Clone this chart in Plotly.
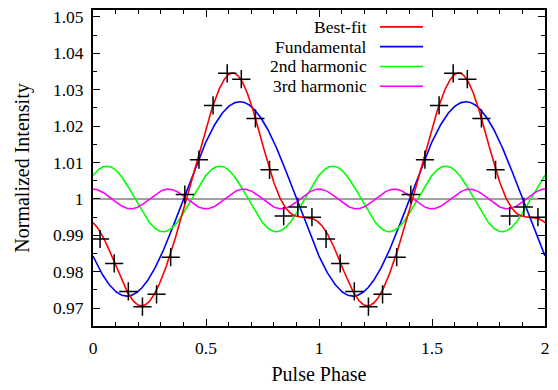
import numpy as np
import plotly.graph_objects as go

# ---- data ----
phase_bins = [0.03125, 0.09375, 0.15625, 0.21875, 0.28125, 0.34375, 0.40625, 0.46875,
              0.53125, 0.59375, 0.65625, 0.71875, 0.78125, 0.84375, 0.90625, 0.96875]
intensity = [0.9890, 0.9823, 0.9746, 0.9704, 0.9738, 0.9840, 1.0012, 1.0108,
             1.0257, 1.0345, 1.0329, 1.0221, 1.0080, 0.9953, 0.9978, 0.9950]

# Fourier model: harmonic number, amplitude, phase of peak
harmonics = [1, 2, 3]
amplitudes = [0.0267, 0.0090, 0.0027]
peak_phases = [0.65, 0.061, 0.0]
mean_level = 1.0

component_names = ["Fundamental", "2nd harmonic", "3rd harmonic"]
component_colors = ["#0000ff", "#00ff00", "#ff00ff"]
fit_name = "Best-fit"
fit_color = "#ff0000"

x_ticks = [0, 0.5, 1, 1.5, 2]
x_ticktext = ["0", "0.5", "1", "1.5", "2"]
y_ticks = [0.97, 0.98, 0.99, 1.0, 1.01, 1.02, 1.03, 1.04, 1.05]
y_ticktext = ["0.97", "0.98", "0.99", "1", "1.01", "1.02", "1.03", "1.04", "1.05"]

# ---- build ----
x = np.linspace(0, 2, 1201)
components = [mean_level + a * np.cos(2 * np.pi * n * (x - p))
              for n, a, p in zip(harmonics, amplitudes, peak_phases)]
fit = mean_level + sum(c - mean_level for c in components)

# two cycles of the folded profile
px = phase_bins + [v + 1 for v in phase_bins]
py = intensity + intensity

FONT = "Liberation Serif, Times New Roman, serif"
fig = go.Figure()

for c, name, col in zip(components, component_names, component_colors):
    fig.add_trace(go.Scatter(x=x, y=c, mode="lines", name=name,
                             line=dict(color=col, width=1.6), showlegend=False))
fig.add_trace(go.Scatter(x=x, y=fit, mode="lines", name=fit_name,
                         line=dict(color=fit_color, width=1.6), showlegend=False))
fig.add_trace(go.Scatter(x=px, y=py, mode="markers", name="data",
                         marker=dict(symbol="cross-thin", size=13,
                                     line=dict(color="black", width=1.5)),
                         showlegend=False))

# reference line at the mean level
fig.add_shape(type="line", xref="paper", x0=0, x1=1, yref="y", y0=mean_level, y1=mean_level,
              line=dict(color="#808080", width=1.5), layer="below")

# gnuplot-style key: text right-aligned, sample to the right
L, R, T, B = 93, 545, 7, 326
W, H = R - L, B - T
key_names = [fit_name] + component_names
key_colors = [fit_color] + component_colors
for i, (nm, col) in enumerate(zip(key_names, key_colors)):
    ypx = 24 + 20 * i
    yp = (B - ypx) / H
    fig.add_annotation(x=(369 - L) / W, y=yp, xref="paper", yref="paper", text=nm,
                       showarrow=False, xanchor="right", yanchor="middle",
                       font=dict(family=FONT, size=17.5, color="black"))
    fig.add_shape(type="line", xref="paper", yref="paper",
                  x0=(380 - L) / W, x1=(423 - L) / W, y0=yp, y1=yp,
                  line=dict(color=col, width=1.6))

axis_common = dict(showline=True, linecolor="black", linewidth=2, mirror="allticks",
                   ticks="inside", ticklen=7, tickwidth=1.2, tickcolor="black",
                   showgrid=False, zeroline=False,
                   tickfont=dict(family=FONT, size=17.5, color="black"))

fig.update_xaxes(range=[0, 2], tickvals=x_ticks, ticktext=x_ticktext, ticklabelstandoff=5,
                 minor=dict(dtick=0.1, ticks="inside", ticklen=4, tickcolor="black", tickwidth=1.2),
                 title=dict(text="Pulse Phase", font=dict(family=FONT, size=20, color="black"), standoff=10),
                 **axis_common)
fig.update_yaxes(range=[0.9651, 1.0519], tickvals=y_ticks, ticktext=y_ticktext, ticklabelstandoff=4,
                 minor=dict(dtick=0.005, tick0=0.97, ticks="inside", ticklen=4, tickcolor="black", tickwidth=1.2),
                 title=dict(text="Normalized Intensity", font=dict(family=FONT, size=20, color="black"), standoff=18),
                 **axis_common)

fig.update_layout(width=558, height=390, margin=dict(l=L, r=558 - R, t=T, b=390 - B),
                  plot_bgcolor="white", paper_bgcolor="white", showlegend=False)

fig.write_html("out.html")
